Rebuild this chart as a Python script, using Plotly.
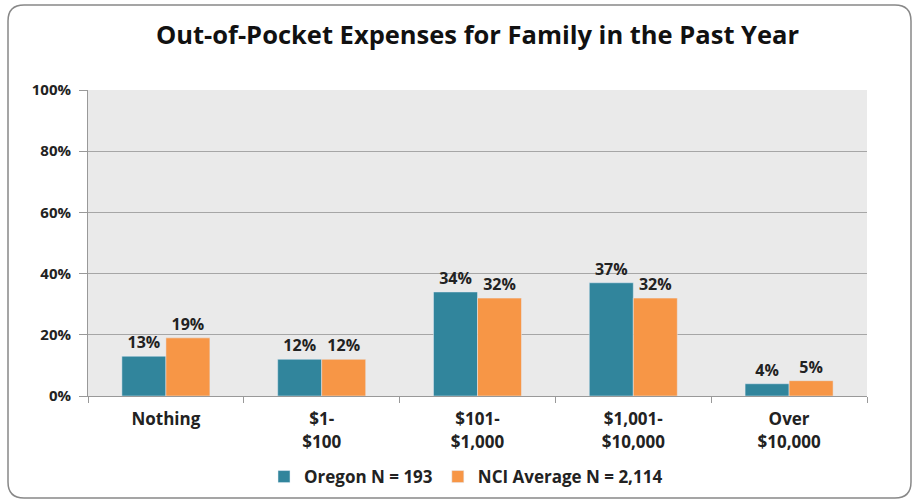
import plotly.graph_objects as go

categories = ["Nothing", "$1-<br>$100", "$101-<br>$1,000", "$1,001-<br>$10,000", "Over<br>$10,000"]
oregon = [13, 12, 34, 37, 4]
nci = [19, 12, 32, 32, 5]
series_names = ["Oregon N = 193", "NCI Average N = 2,114"]
y_ticks = [0, 20, 40, 60, 80, 100]

FONT = "Open Sans, Liberation Sans, sans-serif"
W, H = 915, 500
L, R, T, B = 88, 48, 90, 104
pw, ph = W - L - R, H - T - B

def px(x):
    return (x - L) / pw

def py(y):
    return (H - B - y) / ph

fig = go.Figure()
fig.add_trace(go.Bar(x=categories, y=oregon, name=series_names[0], marker_color="#31859C",
                     text=[f"{v}%" for v in oregon], textposition="outside", cliponaxis=False,
                     texttemplate="<b>%{text}</b>",
                     textfont=dict(family=FONT, size=16, color="#222")))
fig.add_trace(go.Bar(x=categories, y=nci, name=series_names[1], marker_color="#F79646",
                     text=[f"{v}%" for v in nci], textposition="outside", cliponaxis=False,
                     texttemplate="<b>%{text}</b>",
                     textfont=dict(family=FONT, size=16, color="#222")))

# rounded outer border
x0, x1, y0, y1, r = 8, 911, 5, 498, 16
path = (f"M {px(x0+r)},{py(y0)} L {px(x1-r)},{py(y0)} "
        f"Q {px(x1)},{py(y0)} {px(x1)},{py(y0+r)} L {px(x1)},{py(y1-r)} "
        f"Q {px(x1)},{py(y1)} {px(x1-r)},{py(y1)} L {px(x0+r)},{py(y1)} "
        f"Q {px(x0)},{py(y1)} {px(x0)},{py(y1-r)} L {px(x0)},{py(y0+r)} "
        f"Q {px(x0)},{py(y0)} {px(x0+r)},{py(y0)} Z")
fig.add_shape(type="path", path=path, xref="paper", yref="paper",
              line=dict(color="#888", width=1.5), layer="below")

fig.update_layout(
    width=W, height=H,
    margin=dict(l=L, r=R, t=T, b=B, autoexpand=False),
    paper_bgcolor="white", plot_bgcolor="#EAEAEA",
    barmode="group", bargap=0.435, bargroupgap=0,
    title=dict(text="<b>Out-of-Pocket Expenses for Family in the Past Year</b>",
               x=0.5, xref="paper", xanchor="center", y=1 - 35 / H, yanchor="middle",
               font=dict(family=FONT, size=25.5, color="#111")),
    font=dict(family=FONT, color="#222"),
    showlegend=True,
    legend=dict(orientation="h", x=px(466), xanchor="center", xref="paper",
                y=py(477), yanchor="middle",
                font=dict(family=FONT, size=17, color="#222", weight="bold"),
                itemwidth=30, traceorder="normal"),
    xaxis=dict(type="category", showline=True, linecolor="#999", linewidth=1, automargin=False,
               ticks="outside", tickson="boundaries", ticklen=6, tickcolor="#999",
               ticklabelstandoff=8,
               tickfont=dict(family=FONT, size=17, color="#222"),
               tickvals=categories, ticktext=[f"<b>{c.replace('<br>', '</b><br><b>')}</b>" for c in categories]),
    yaxis=dict(range=[0, 100], tickvals=y_ticks, ticktext=[f"<b>{v}%</b>" for v in y_ticks],
               showline=True, linecolor="#999", linewidth=1, automargin=False,
               ticks="outside", ticklen=8, tickcolor="#999", ticklabelstandoff=5,
               gridcolor="#A6A6A6", gridwidth=1, zeroline=False,
               tickfont=dict(family=FONT, size=15, color="#222")),
)

fig.write_html("out.html", config={"displayModeBar": False},
               post_script="document.body.style.margin='0';document.body.style.padding='0';")
